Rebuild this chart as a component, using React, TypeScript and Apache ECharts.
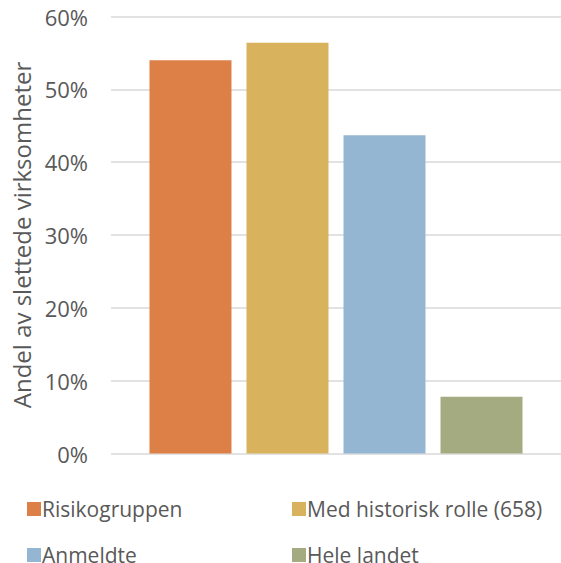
import React, { useEffect, useRef } from "react";
import * as echarts from "echarts";

const categories = [""];
const seriesNames = ["Risikogruppen", "Med historisk rolle (658)", "Anmeldte", "Hele landet"];
const seriesValues = [54.0, 56.4, 43.7, 7.8];
const seriesColors = ["#DD8047", "#D8B25C", "#94B6D2", "#A5AB81"];
const yTicks = { min: 0, max: 60, interval: 10 };
const yAxisTitle = "Andel av slettede virksomheter";

const FONT = "'Open Sans', 'Noto Sans', sans-serif";
const TEXT = "#595959";

export default function App() {
  const ref = useRef<HTMLDivElement>(null);
  useEffect(() => {
    if (!ref.current) return;
    const chart = echarts.init(ref.current, undefined, { renderer: "svg" });
    const legendCommon = {
      orient: "vertical" as const,
      top: 498.5,
      height: 120,
      itemWidth: 14,
      itemHeight: 14,
      itemGap: 25,
      icon: "rect",
      textStyle: { color: TEXT, fontSize: 21, fontFamily: FONT, padding: [0, 0, 0, -4] },
      selectedMode: false,
      padding: 0,
    };
    chart.setOption({
      animation: false,
      backgroundColor: "#ffffff",
      textStyle: { fontFamily: FONT },
      grid: { left: 111, right: -3, top: 16.5, bottom: 109.5, containLabel: false },
      legend: [
        { ...legendCommon, left: 27, data: [seriesNames[0], seriesNames[2]] },
        { ...legendCommon, left: 292, data: [seriesNames[1], seriesNames[3]] },
      ],
      xAxis: {
        type: "category",
        data: categories,
        axisLine: { show: false },
        axisTick: { show: false },
        axisLabel: { show: false },
      },
      yAxis: {
        type: "value",
        min: yTicks.min,
        max: yTicks.max,
        interval: yTicks.interval,
        name: yAxisTitle,
        nameLocation: "middle",
        nameGap: 77,
        nameTextStyle: { color: TEXT, fontSize: 24, fontFamily: FONT },
        axisLine: { show: false },
        axisTick: { show: false },
        axisLabel: {
          formatter: "{value}%",
          color: TEXT,
          fontSize: 22,
          fontFamily: FONT,
          margin: 23,
        },
        splitLine: { lineStyle: { color: "#d9d9d9", width: 1.5 } },
      },
      series: seriesNames.map((name, i) => ({
        name,
        type: "bar",
        data: [seriesValues[i]],
        barWidth: 82,
        barGap: "18.3%",
        itemStyle: { color: seriesColors[i] },
      })),
    });
    return () => chart.dispose();
  }, []);
  return <div ref={ref} style={{ width: 561, height: 563, position: "absolute", left: 0, top: 0 }} />;
}
